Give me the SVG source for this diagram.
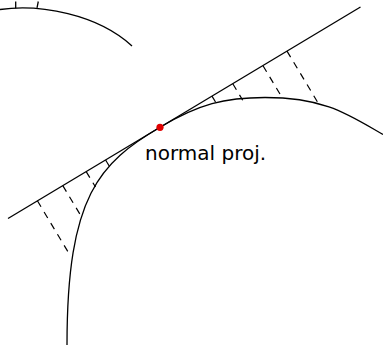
<svg xmlns="http://www.w3.org/2000/svg" width="383" height="345" viewBox="0 0 383 345">
<style>
.ln{fill:none;stroke:#000;stroke-width:1.3;stroke-linecap:butt}
.ds{fill:none;stroke:#000;stroke-width:1.2;stroke-dasharray:7,6}
.lb{font-family:"DejaVu Sans",sans-serif;font-size:20px;fill:#000}
</style>
<rect width="383" height="345" fill="#fff"/>
<g id="upper-arc">
<path class="ln" d="M0,9.5 C40,4 97,14 132,46"/>
<path class="ln" d="M15.7,1.5 L15.7,8.2 M38.3,1.5 L37,7.8"/>
</g>
<g id="curve">
<path class="ln" d="M67,345 C67,195 99.9,162.8 160,127.3 C198.7,104 225,97.5 265,97.5 C325,97.5 348.4,114.5 383,134.5"/>
</g>
<g id="tangent">
<path class="ln" d="M8,218.5 L360.5,7"/>
</g>
<g id="connectors">
<path class="ds" d="M105.6,160 L109.5,166.5"/>
<path class="ds" d="M86.2,171.6 L95.5,187"/>
<path class="ds" d="M62.8,185.6 L81,216"/>
<path class="ds" d="M37.4,200.8 L70.5,256"/>
<path class="ds" d="M212,96.1 L215.5,102"/>
<path class="ds" d="M232.8,83.7 L242.7,100.2"/>
<path class="ds" d="M263,65.7 L281.7,96.9"/>
<path class="ds" d="M287,51.1 L318.3,103.3"/>
</g>
<g id="point">
<circle cx="160" cy="127.3" r="3.6" fill="#e00000"/>
</g>
<g id="label">
<text class="lb" x="145" y="160">normal proj.</text>
</g>
</svg>
